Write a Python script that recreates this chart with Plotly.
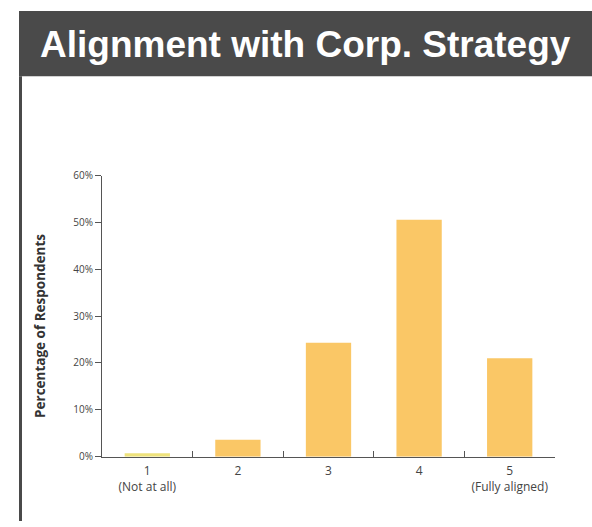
import plotly.graph_objects as go

categories = ["1<br>(Not at all)", "2", "3", "4", "5<br>(Fully aligned)"]
values = [0.7, 3.6, 24.3, 50.6, 21.0]
bar_colors = ["#EEE27C", "#FAC766", "#FAC766", "#FAC766", "#FAC766"]
y_ticks = [0, 10, 20, 30, 40, 50, 60]
y_tick_labels = [f"{v}%" for v in y_ticks]
title_text = "Alignment with Corp. Strategy"
y_title = "Percentage of Respondents"

W, H = 592, 527

fig = go.Figure(go.Bar(
    x=categories, y=values, marker=dict(color=bar_colors, line=dict(width=0)),
    width=0.5, hoverinfo="skip"))

fig.update_layout(
    width=W, height=H,
    margin=dict(l=0, r=0, t=0, b=0),
    paper_bgcolor="white", plot_bgcolor="white",
    showlegend=False,
    xaxis=dict(
        domain=[102 / W, 555 / W],
        range=[-0.5, 4.5],
        showline=True, linecolor="#555555", linewidth=1,
        ticks="inside", tickson="boundaries", ticklen=6, tickcolor="#555555",
        showgrid=False, zeroline=False, ticklabelstandoff=3,
        tickfont=dict(family="Open Sans, sans-serif", size=12, color="#444444"),
    ),
    yaxis=dict(
        domain=[(H - 461) / H, (H - 173) / H],
        range=[0, 60],
        tickvals=y_ticks, ticktext=y_tick_labels,
        showline=True, linecolor="#555555", linewidth=1,
        ticks="outside", ticklen=6, tickcolor="#555555",
        showgrid=False, zeroline=False,
        tickfont=dict(family="Open Sans, sans-serif", size=10, color="#444444"),
    ),
    shapes=[
        dict(type="rect", xref="paper", yref="paper",
             x0=19 / W, x1=1, y0=(H - 71) / H, y1=(H - 4) / H,
             fillcolor="#4A4A4A", line=dict(width=0), layer="below"),
        dict(type="rect", xref="paper", yref="paper",
             x0=19 / W, x1=22 / W, y0=0, y1=(H - 71) / H,
             fillcolor="#4A4A4A", line=dict(width=0), layer="below"),
    ],
    annotations=[
        dict(text=f"<b>{title_text}</b>", xref="paper", yref="paper",
             x=305 / W, y=(H - 38) / H, xanchor="center", yanchor="middle",
             showarrow=False,
             font=dict(family="Liberation Sans, Arial, sans-serif", size=37, color="white")),
        dict(text=f"<b>{y_title}</b>", xref="paper", yref="paper",
             x=40 / W, y=(H - 327) / H, xanchor="center", yanchor="middle",
             textangle=-90, showarrow=False,
             font=dict(family="Open Sans, sans-serif", size=13.5, color="#333333")),
    ],
)

fig.write_html("out.html")
